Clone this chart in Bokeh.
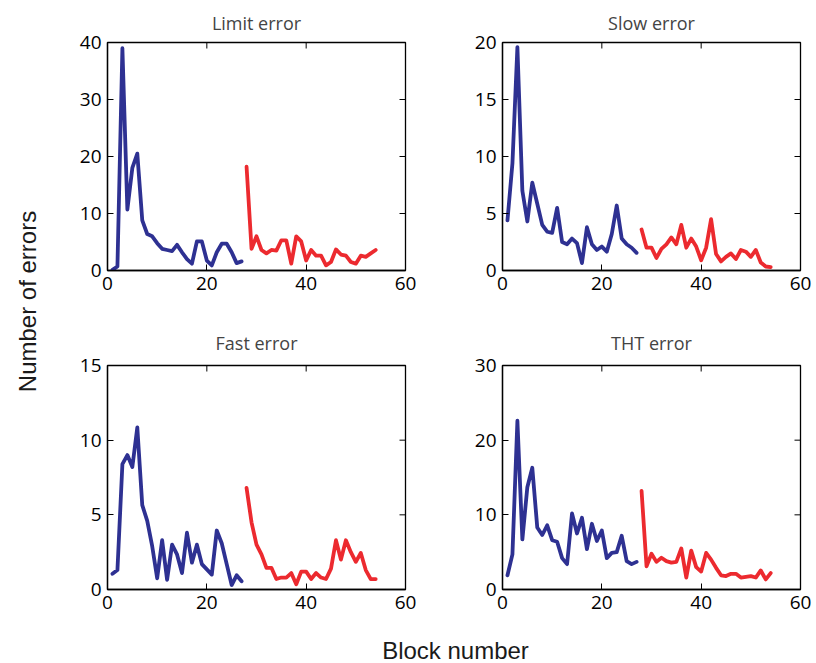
import math
from bokeh.plotting import figure
from bokeh.layouts import row, column
from bokeh.models import Range1d, FixedTicker, ColumnDataSource
from bokeh.core.properties import value
from bokeh.embed import file_html
from bokeh.resources import INLINE

# Block numbers: first session (blocks 1-27) and second session (blocks 28-54)
blocks_a = list(range(1, 28))
blocks_b = list(range(28, 55))

limit_a = [0.1, 0.7, 39.0, 10.7, 18.0, 20.5, 8.8, 6.4, 6.0, 4.8, 3.8, 3.6, 3.4, 4.5,
           3.2, 2.0, 1.2, 5.1, 5.1, 1.75, 0.9, 3.2, 4.7, 4.7, 3.2, 1.3, 1.6]
limit_b = [18.2, 3.8, 6.0, 3.6, 3.0, 3.6, 3.5, 5.3, 5.3, 1.2, 6.0, 5.1, 1.75, 3.6,
           2.6, 2.6, 0.9, 1.5, 3.7, 2.8, 2.6, 1.5, 1.2, 2.6, 2.4, 3.0, 3.6]

slow_a = [4.4, 9.4, 19.6, 7.0, 4.3, 7.7, 5.85, 4.0, 3.4, 3.3, 5.5, 2.5, 2.3, 2.8,
          2.4, 0.65, 3.8, 2.3, 1.8, 2.1, 1.65, 3.2, 5.7, 2.8, 2.3, 2.0, 1.55]
slow_b = [3.6, 2.0, 2.0, 1.1, 1.9, 2.3, 2.9, 2.3, 4.0, 2.0, 2.8, 2.1, 0.9, 2.0,
          4.5, 1.45, 0.8, 1.2, 1.5, 1.0, 1.8, 1.65, 1.2, 1.8, 0.7, 0.35, 0.3]

fast_a = [1.05, 1.3, 8.4, 9.0, 8.2, 10.85, 5.65, 4.6, 2.9, 0.75, 3.3, 0.65, 3.0, 2.35,
          1.1, 3.8, 1.8, 3.0, 1.7, 1.35, 1.0, 3.95, 3.1, 1.7, 0.3, 0.95, 0.55]
fast_b = [6.8, 4.5, 3.0, 2.35, 1.45, 1.45, 0.7, 0.8, 0.8, 1.1, 0.35, 1.2, 1.2, 0.7,
          1.1, 0.8, 0.7, 1.4, 3.3, 2.0, 3.3, 2.5, 1.85, 2.45, 1.3, 0.7, 0.7]

tht_a = [1.9, 4.7, 22.6, 6.7, 13.7, 16.3, 8.3, 7.3, 8.6, 6.6, 6.4, 4.2, 3.4, 10.2,
         7.5, 9.6, 5.4, 8.8, 6.5, 7.9, 4.2, 4.9, 5.0, 7.2, 3.8, 3.4, 3.7]
tht_b = [13.2, 3.1, 4.8, 3.7, 4.25, 3.8, 3.6, 3.7, 5.5, 1.6, 5.2, 3.0, 2.4, 4.9,
         4.0, 2.9, 1.9, 1.8, 2.1, 2.1, 1.6, 1.7, 1.8, 1.6, 2.55, 1.35, 2.2]

titles = ["Limit error", "Slow error", "Fast error", "THT error"]
x_ticks = [0, 20, 40, 60]
y_ticks = [[0, 10, 20, 30, 40], [0, 5, 10, 15, 20], [0, 5, 10, 15], [0, 10, 20, 30]]
y_max = [40, 20, 15, 30]
x_max = 60

BLUE = "#2e3192"
RED = "#ec2a2f"
TICK_FONT = "Open Sans"
LABEL_FONT = "Liberation Sans"
TICK_LEN = 6


def style_axis(ax):
    ax.axis_line_color = "black"
    ax.axis_line_width = 1.3
    ax.major_tick_in = TICK_LEN
    ax.major_tick_out = 0
    ax.major_tick_line_color = "black"
    ax.minor_tick_in = 0
    ax.minor_tick_out = 0
    ax.major_label_text_font = TICK_FONT
    ax.major_label_text_color = "black"
    ax.major_label_text_font_size = "19px"
    ax.major_label_standoff = 6


def panel(i, xa, ya, xb, yb, width, height, borders, title_gap):
    left, right, top, bottom = borders
    p = figure(width=width, height=height, output_backend="svg", toolbar_location=None,
               x_range=Range1d(0, x_max), y_range=Range1d(0, y_max[i]),
               min_border_left=left, min_border_right=right,
               min_border_top=top, min_border_bottom=bottom)
    p.grid.visible = False
    p.outline_line_color = "black"
    p.outline_line_width = 1.3
    p.background_fill_color = "white"
    p.border_fill_color = "white"

    p.xaxis.ticker = FixedTicker(ticks=x_ticks)
    p.yaxis.ticker = FixedTicker(ticks=y_ticks[i])
    style_axis(p.xaxis[0])
    style_axis(p.yaxis[0])

    # inward tick marks on the top and right edges of the box
    p.ray(x=x_ticks, y=[y_max[i]] * len(x_ticks), length=TICK_LEN, length_units="screen",
          angle=-math.pi / 2, line_color="black", line_width=1)
    p.ray(x=[x_max] * len(y_ticks[i]), y=y_ticks[i], length=TICK_LEN, length_units="screen",
          angle=math.pi, line_color="black", line_width=1)

    p.title.text = titles[i]
    p.title.align = "center"
    p.title.text_font = TICK_FONT
    p.title.text_font_style = "normal"
    p.title.text_font_size = "18px"
    p.title.standoff = title_gap

    p.line(xa, ya, line_color=BLUE, line_width=3.8, line_join="round", line_cap="round")
    p.line(xb, yb, line_color=RED, line_width=3.8, line_join="round", line_cap="round")
    return p


p1 = panel(0, blocks_a, limit_a, blocks_b, limit_b, 395, 318, (57, 40, 42, 48), 16)
p2 = panel(1, blocks_a, slow_a, blocks_b, slow_b, 371, 318, (57, 16, 42, 48), 16)
p3 = panel(2, blocks_a, fast_a, blocks_b, fast_b, 395, 302, (57, 40, 47, 31), 21)
p4 = panel(3, blocks_a, tht_a, blocks_b, tht_b, 371, 302, (57, 16, 47, 31), 21)


def label_strip(width, height, text, x, y, angle):
    s = figure(width=width, height=height, output_backend="svg", toolbar_location=None,
               x_range=Range1d(0, 1), y_range=Range1d(0, 1),
               x_axis_type=None, y_axis_type=None,
               min_border=0)
    s.grid.visible = False
    s.outline_line_color = None
    s.background_fill_color = "white"
    s.border_fill_color = "white"
    src = ColumnDataSource(dict(x=[x], y=[y], t=[text]))
    s.text(x="x", y="y", text="t", source=src, angle=angle,
           text_font=value(LABEL_FONT), text_font_size="24px", text_color="#1a1a1a",
           text_align="center", text_baseline="middle")
    return s


ylab = label_strip(50, 620, "Number of errors", 0.54, 1 - 301 / 620, math.pi / 2)
xlab = label_strip(766, 43, "Block number", (455 - 50) / 766, 1 - 30 / 43, 0)

grid = column(row(p1, p2), row(p3, p4), xlab)
layout = row(ylab, grid)

open("out.html", "w").write(file_html(layout, INLINE))
